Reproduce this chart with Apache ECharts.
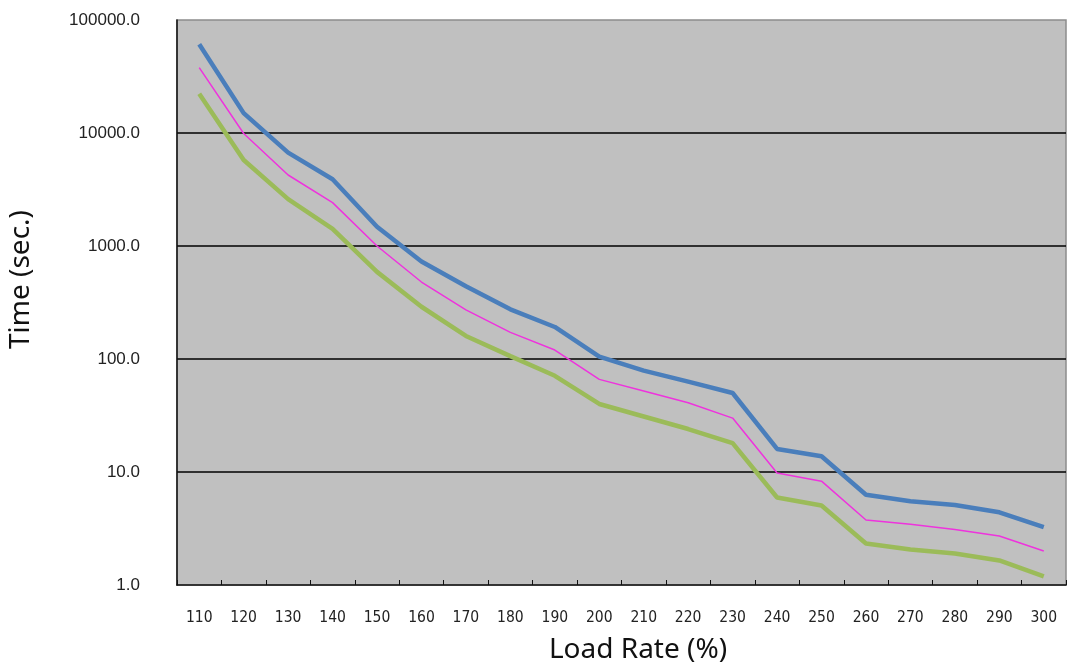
<!DOCTYPE html>
<html>
<head>
<meta charset="utf-8">
<script src="https://cdn.jsdelivr.net/npm/echarts@6/dist/echarts.min.js"></script>
<style>
html,body{margin:0;padding:0;background:#fff;}
#chart{width:1071px;height:665px;}
</style>
</head>
<body>
<div id="chart"></div>
<script>
const loadRates = ['110','120','130','140','150','160','170','180','190','200','210','220','230','240','250','260','270','280','290','300'];
const upperTimes = [61000, 15000, 6700, 3900, 1480, 730, 440, 275, 192, 105, 79, 63, 50, 16, 13.8, 6.3, 5.5, 5.1, 4.4, 3.25];
const middleTimes = [37900, 9900, 4250, 2420, 1000, 480, 272, 172, 120, 66, 52, 41, 30, 9.8, 8.3, 3.76, 3.45, 3.1, 2.71, 2.0];
const lowerTimes = [22300, 5770, 2600, 1420, 590, 290, 160, 106, 71, 40, 31, 24, 18, 5.95, 5.05, 2.33, 2.06, 1.9, 1.65, 1.19];

const chart = echarts.init(document.getElementById('chart'), null, {renderer: 'canvas'});
chart.setOption({
  animation: false,
  backgroundColor: '#ffffff',
  grid: {
    left: 177, right: 5, top: 20, bottom: 80,
    outerBoundsMode: 'none',
    containLabel: false,
    show: true, backgroundColor: '#c0c0c0', borderColor: '#8c8c8c', borderWidth: 1.5
  },
  xAxis: {
    type: 'category',
    data: loadRates,
    boundaryGap: true,
    name: 'Load Rate (%)',
    nameLocation: 'middle',
    nameGap: 51,
    nameTextStyle: {fontFamily: 'Noto Sans', fontSize: 28, color: '#111', padding: [0, 0, 0, 33]},
    axisLine: {lineStyle: {color: '#111', width: 1.5}},
    axisTick: {show: true, inside: true, length: 5, alignWithLabel: false, lineStyle: {color: '#111'}},
    axisLabel: {margin: 25, interval: 0, fontFamily: '"Liberation Sans Narrow", "DejaVu Sans Condensed", "Liberation Sans"', fontSize: 15.5, color: '#222'},
    splitLine: {show: false}
  },
  yAxis: {
    type: 'log',
    logBase: 10,
    min: 1,
    max: 100000,
    name: 'Time (sec.)',
    nameLocation: 'middle',
    nameGap: 142,
    nameRotate: 90,
    nameTextStyle: {fontFamily: 'Noto Sans', fontSize: 28, color: '#111', padding: [0, 0, 0, 46]},
    axisLine: {show: true, lineStyle: {color: '#111', width: 1.5}},
    axisTick: {show: false},
    axisLabel: {margin: 37, formatter: v => Number(v).toFixed(1), fontFamily: 'Liberation Sans', fontSize: 17, color: '#222'},
    splitLine: {show: true, showMinLine: false, showMaxLine: false, lineStyle: {color: '#000', width: 1.5}}
  },
  series: [
    {name: 'Upper', type: 'line', data: upperTimes, symbol: 'none', lineStyle: {color: '#4a7ebb', width: 4.5}, itemStyle: {color: '#4a7ebb'}, z: 3},
    {name: 'Middle', type: 'line', data: middleTimes, symbol: 'none', lineStyle: {color: '#ee33dd', width: 1.5}, itemStyle: {color: '#ee33dd'}, z: 4},
    {name: 'Lower', type: 'line', data: lowerTimes, symbol: 'none', lineStyle: {color: '#9bbb59', width: 4.5}, itemStyle: {color: '#9bbb59'}, z: 2}
  ]
});
</script>
</body>
</html>
